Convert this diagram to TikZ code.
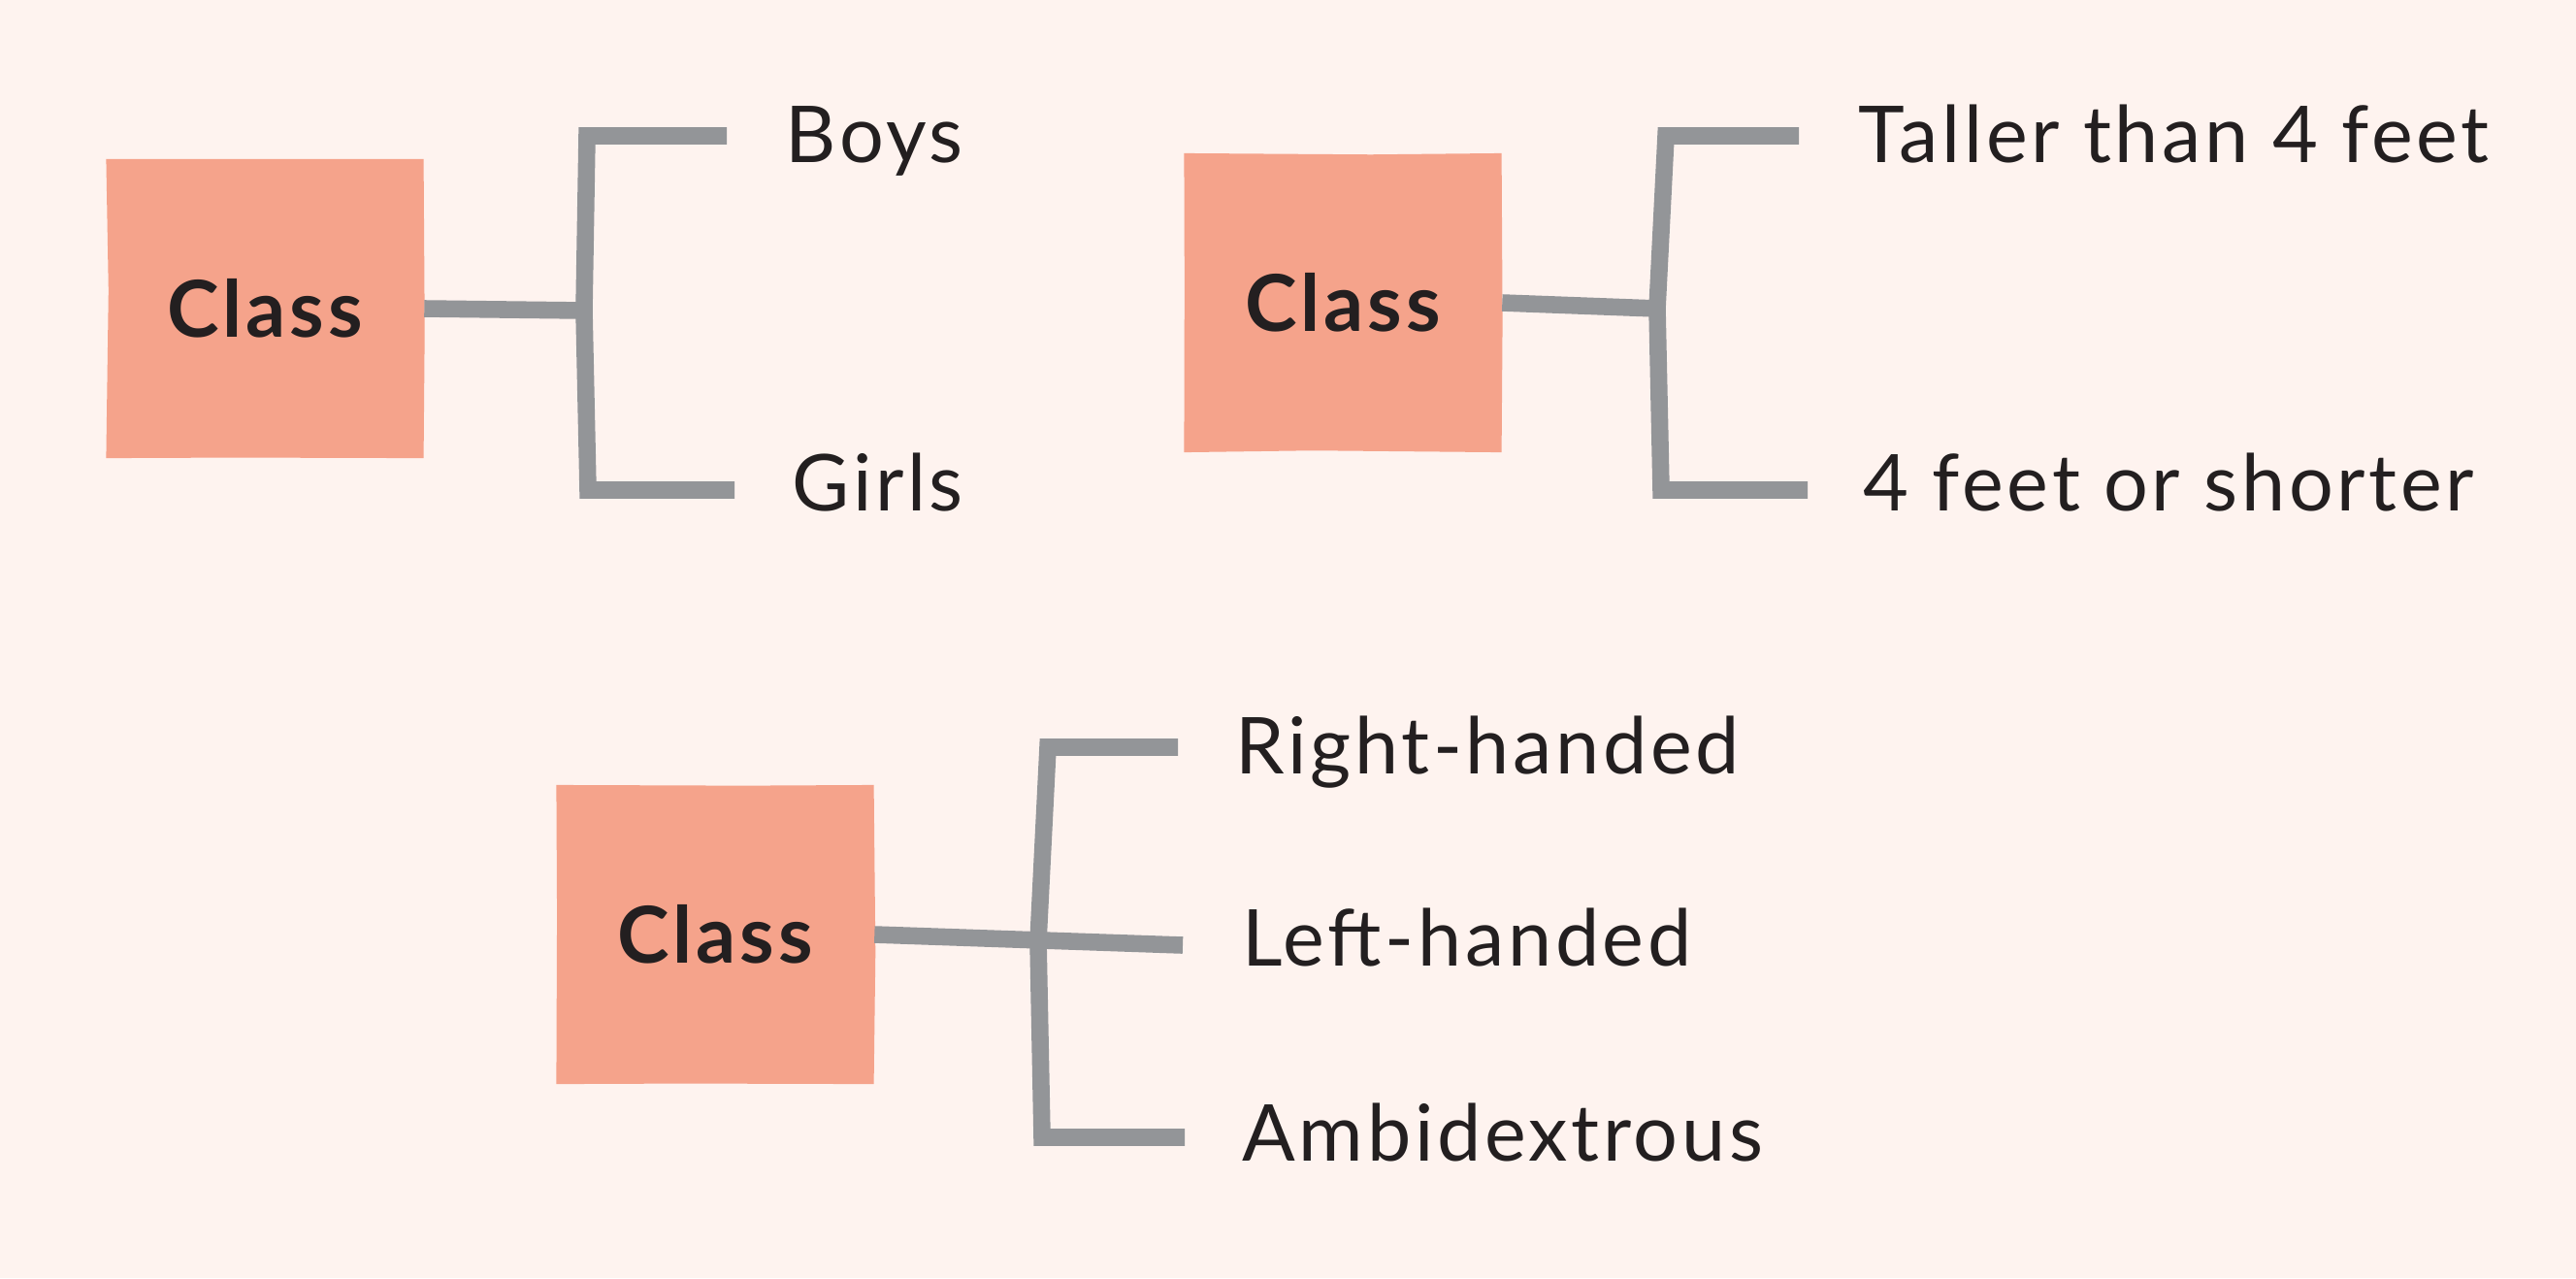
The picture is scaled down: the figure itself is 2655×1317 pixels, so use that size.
\documentclass[tikz,border=0pt]{standalone}
\usepackage{fontspec}
\setmainfont{Lato}
\usepackage{xcolor}
\usetikzlibrary{positioning,calc,decorations.pathmorphing}
\definecolor{bgpink}{HTML}{FEF3EF}
\definecolor{boxpink}{HTML}{F5A38B}
\definecolor{linegray}{HTML}{939598}
\definecolor{inkdark}{HTML}{231F20}

\begin{document}
\begin{tikzpicture}[
    x=0.01cm, y=-0.01cm,
    classbox/.style={rectangle, fill=boxpink, minimum width=3.27cm, minimum height=3.08cm,
        decorate, decoration={random steps, segment length=38pt, amplitude=0.7pt},
        font=\fontsize{23}{28}\selectfont\bfseries\addfontfeatures{LetterSpace=5}, text=inkdark},
    leaf/.style={anchor=base west, font=\fontsize{23}{28}\selectfont\addfontfeatures{LetterSpace=4.5},
        text=inkdark, inner sep=0pt},
    branch/.style={draw=linegray, line width=5pt, line join=miter}
]
    \pgfmathsetseed{7}
    \fill[bgpink] (0,0) rectangle (2655,1317);

    % Boys / Girls
    \node[classbox] (c1) at (273,318) {Class};
    \node[leaf] (l1a) at (809,167) {Boys};
    \node[leaf] (l1b) at (816,526) {Girls};
    \coordinate (e1a) at (749,140); \coordinate (e1b) at (757,505);
    \draw[branch] (e1a) -- (605,140) -- (602,320) -- (606,505) -- (e1b);
    \draw[branch] (c1.east) -- (602,320);

    % Height
    \node[classbox] (c2) at (1384,312) {Class};
    \node[leaf] (l2a) at (1915,167) {Taller than 4 feet};
    \node[leaf] (l2b) at (1920,526) {4 feet or shorter};
    \coordinate (e2a) at (1854,140); \coordinate (e2b) at (1863,505);
    \draw[branch] (e2a) -- (1717,140) -- (1708,318) -- (1712,505) -- (e2b);
    \draw[branch] (c2.east) -- (1708,318);

    % Handedness
    \node[classbox] (c3) at (737,963) {Class};
    \node[leaf] (l3a) at (1273,797) {Right-handed};
    \node[leaf] (l3b) at (1280,995) {Left-handed};
    \node[leaf] (l3c) at (1280,1196) {Ambidextrous};
    \coordinate (e3a) at (1214,770); \coordinate (e3b) at (1219,974); \coordinate (e3c) at (1221,1172);
    \draw[branch] (e3a) -- (1080,770) -- (1070,970) -- (1074,1172) -- (e3c);
    \draw[branch] (c3.east) -- (e3b);
\end{tikzpicture}
\end{document}
